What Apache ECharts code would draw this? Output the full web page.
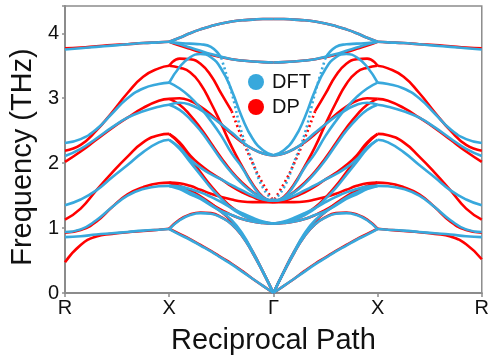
<!DOCTYPE html>
<html><head><meta charset="utf-8">
<script src="https://cdn.jsdelivr.net/npm/echarts@6/dist/echarts.min.js"></script>
<style>html,body{margin:0;padding:0;background:#fff}#c{width:492px;height:360px}</style>
</head><body><div id="c"></div>
<script>
// ---- path / axis ----
const tickLabels = ['R', 'X', 'Γ', 'X', 'R'];
const posRX = [0, 0.15, 0.3, 0.45, 0.6, 0.75, 0.9, 1];
const posXG = [1, 1.1, 1.2, 1.3, 1.4, 1.5, 1.6, 1.7, 1.8, 1.9, 2];
const posGX = [3, 2.9, 2.8, 2.7, 2.6, 2.5, 2.4, 2.3, 2.2, 2.1, 2];
const posXR = [4, 3.85, 3.7, 3.55, 3.4, 3.25, 3.1, 3];

// ---- DFT (THz) ----
const dftLeftRX = [
  [0.86, 0.875, 0.9, 0.92, 0.94, 0.96, 0.975, 0.985],
  [0.94, 0.98, 1.12, 1.32, 1.5, 1.6, 1.645, 1.65],
  [1.35, 1.44, 1.58, 1.78, 1.97, 2.17, 2.32, 2.36],
  [2.11, 2.22, 2.38, 2.55, 2.7, 2.8, 2.87, 2.9],
  [2.31, 2.37, 2.52, 2.76, 3.0, 3.15, 3.22, 3.24],
  [3.75, 3.77, 3.79, 3.81, 3.83, 3.85, 3.86, 3.87]
];
const dftLeftXG = [
  [3.87, 3.93, 4.0, 4.06, 4.11, 4.15, 4.18, 4.2, 4.21, 4.22, 4.22],
  [3.87, 3.83, 3.78, 3.73, 3.68, 3.64, 3.6, 3.58, 3.565, 3.555, 3.55],
  [3.87, 3.85, 3.84, 3.83, 3.79, 3.62, 3.08, 2.45, 2.02, 1.62, 1.42],
  [3.24, 3.48, 3.63, 3.68, 3.63, 3.45, 3.12, 2.7, 2.38, 2.2, 2.12],
  [3.24, 3.15, 3.02, 2.85, 2.65, 2.42, 2.15, 1.93, 1.66, 1.47, 1.42],
  [2.9, 2.93, 2.9, 2.82, 2.72, 2.6, 2.47, 2.33, 2.22, 2.15, 2.12],
  [2.9, 2.82, 2.68, 2.5, 2.28, 2.05, 1.85, 1.68, 1.55, 1.46, 1.42],
  [2.36, 2.24, 2.06, 1.93, 1.83, 1.75, 1.66, 1.58, 1.5, 1.44, 1.42],
  [2.36, 2.22, 2.02, 1.82, 1.62, 1.45, 1.3, 1.2, 1.13, 1.09, 1.07],
  [1.65, 1.64, 1.6, 1.55, 1.48, 1.4, 1.31, 1.23, 1.16, 1.1, 1.07],
  [1.65, 1.6, 1.52, 1.45, 1.35, 1.26, 1.2, 1.14, 1.1, 1.08, 1.07],
  [1.65, 1.62, 1.55, 1.47, 1.36, 1.25, 1.12, 0.92, 0.64, 0.33, 0],
  [0.985, 1.12, 1.2, 1.23, 1.22, 1.16, 1.06, 0.88, 0.62, 0.32, 0],
  [0.985, 0.9, 0.82, 0.73, 0.64, 0.54, 0.44, 0.33, 0.22, 0.11, 0]
];
const dftRightGX = [
  [3.87, 3.93, 4.0, 4.06, 4.11, 4.15, 4.18, 4.2, 4.21, 4.22, 4.22],
  [3.87, 3.83, 3.78, 3.73, 3.68, 3.64, 3.6, 3.58, 3.565, 3.555, 3.55],
  [3.87, 3.85, 3.84, 3.83, 3.79, 3.62, 3.08, 2.45, 2.02, 1.62, 1.42],
  [3.24, 3.48, 3.63, 3.68, 3.63, 3.45, 3.12, 2.7, 2.38, 2.2, 2.12],
  [3.24, 3.15, 3.02, 2.85, 2.65, 2.42, 2.15, 1.93, 1.66, 1.47, 1.42],
  [2.9, 2.93, 2.9, 2.82, 2.72, 2.6, 2.47, 2.33, 2.22, 2.15, 2.12],
  [2.9, 2.82, 2.68, 2.5, 2.28, 2.05, 1.85, 1.68, 1.55, 1.46, 1.42],
  [2.36, 2.24, 2.06, 1.93, 1.83, 1.75, 1.66, 1.58, 1.5, 1.44, 1.42],
  [2.36, 2.22, 2.02, 1.82, 1.62, 1.45, 1.3, 1.2, 1.13, 1.09, 1.07],
  [1.65, 1.64, 1.6, 1.55, 1.48, 1.4, 1.31, 1.23, 1.16, 1.1, 1.07],
  [1.65, 1.6, 1.52, 1.45, 1.35, 1.26, 1.2, 1.14, 1.1, 1.08, 1.07],
  [1.65, 1.62, 1.55, 1.47, 1.36, 1.25, 1.12, 0.92, 0.64, 0.33, 0],
  [0.985, 1.12, 1.2, 1.23, 1.22, 1.16, 1.06, 0.88, 0.62, 0.32, 0],
  [0.985, 0.9, 0.82, 0.73, 0.64, 0.54, 0.44, 0.33, 0.22, 0.11, 0]
];
const dftRightXR = [
  [0.86, 0.875, 0.9, 0.92, 0.94, 0.96, 0.975, 0.985],
  [0.94, 0.98, 1.12, 1.32, 1.5, 1.6, 1.645, 1.65],
  [1.35, 1.44, 1.58, 1.78, 1.97, 2.17, 2.32, 2.36],
  [2.11, 2.22, 2.38, 2.55, 2.7, 2.8, 2.87, 2.9],
  [2.31, 2.37, 2.52, 2.76, 3.0, 3.15, 3.22, 3.24],
  [3.75, 3.77, 3.79, 3.81, 3.83, 3.85, 3.86, 3.87]
];

// ---- DP (THz) ----
const dpLeftRX = [
  [0.475, 0.74, 0.87, 0.91, 0.935, 0.955, 0.975, 0.99],
  [0.93, 0.97, 1.1, 1.32, 1.52, 1.63, 1.69, 1.7],
  [1.13, 1.3, 1.58, 1.85, 2.1, 2.32, 2.43, 2.45],
  [2.02, 2.18, 2.36, 2.54, 2.7, 2.85, 2.96, 2.99],
  [2.19, 2.28, 2.5, 2.78, 3.08, 3.33, 3.46, 3.5],
  [3.77, 3.78, 3.8, 3.82, 3.83, 3.85, 3.86, 3.87]
];
const dpLeftXG = [
  [3.87, 3.93, 4.0, 4.06, 4.11, 4.15, 4.18, 4.2, 4.21, 4.22, 4.22],
  [3.87, 3.81, 3.76, 3.71, 3.67, 3.63, 3.6, 3.58, 3.565, 3.555, 3.55],
  [3.5, 3.61, 3.6, 3.53, 3.35, 3.07, 2.8, 2.38, 2.0, 1.68, 1.42],
  [3.5, 3.47, 3.4, 3.22, 2.93, 2.6, 2.25, 1.95, 1.68, 1.48, 1.4],
  [2.99, 3.0, 2.96, 2.87, 2.75, 2.6, 2.45, 2.32, 2.22, 2.15, 2.12],
  [2.99, 2.9, 2.74, 2.54, 2.31, 2.08, 1.87, 1.7, 1.56, 1.46, 1.42],
  [2.45, 2.32, 2.12, 1.97, 1.85, 1.75, 1.64, 1.55, 1.48, 1.42, 1.4],
  [2.45, 2.3, 2.08, 1.86, 1.65, 1.47, 1.32, 1.21, 1.13, 1.09, 1.07],
  [1.7, 1.69, 1.65, 1.59, 1.53, 1.48, 1.44, 1.41, 1.4, 1.4, 1.4],
  [1.7, 1.63, 1.55, 1.47, 1.37, 1.28, 1.2, 1.14, 1.1, 1.08, 1.07],
  [1.7, 1.65, 1.58, 1.49, 1.38, 1.25, 1.1, 0.9, 0.64, 0.33, 0],
  [0.99, 1.13, 1.21, 1.24, 1.23, 1.17, 1.06, 0.88, 0.62, 0.32, 0],
  [0.99, 0.91, 0.83, 0.74, 0.65, 0.55, 0.45, 0.34, 0.22, 0.11, 0]
];
const dpRightGX = [
  [3.87, 3.93, 4.0, 4.06, 4.11, 4.15, 4.18, 4.2, 4.21, 4.22, 4.22],
  [3.87, 3.81, 3.76, 3.71, 3.67, 3.63, 3.6, 3.58, 3.565, 3.555, 3.55],
  [3.5, 3.61, 3.6, 3.53, 3.35, 3.07, 2.8, 2.38, 2.0, 1.68, 1.42],
  [3.5, 3.47, 3.4, 3.22, 2.93, 2.6, 2.25, 1.95, 1.68, 1.48, 1.4],
  [2.99, 3.0, 2.96, 2.87, 2.75, 2.6, 2.45, 2.32, 2.22, 2.15, 2.12],
  [2.99, 2.9, 2.74, 2.54, 2.31, 2.08, 1.87, 1.7, 1.56, 1.46, 1.42],
  [2.45, 2.32, 2.12, 1.97, 1.85, 1.75, 1.64, 1.55, 1.48, 1.42, 1.4],
  [2.45, 2.3, 2.08, 1.86, 1.65, 1.47, 1.32, 1.21, 1.13, 1.09, 1.07],
  [1.7, 1.69, 1.65, 1.59, 1.53, 1.48, 1.44, 1.41, 1.4, 1.4, 1.4],
  [1.7, 1.63, 1.55, 1.47, 1.37, 1.28, 1.2, 1.14, 1.1, 1.08, 1.07],
  [1.7, 1.65, 1.58, 1.49, 1.38, 1.25, 1.1, 0.9, 0.64, 0.33, 0],
  [0.99, 1.13, 1.21, 1.24, 1.23, 1.17, 1.06, 0.88, 0.62, 0.32, 0],
  [0.99, 0.91, 0.83, 0.74, 0.65, 0.55, 0.45, 0.34, 0.22, 0.11, 0]
];
const dpRightXR = [
  [0.52, 0.75, 0.87, 0.91, 0.935, 0.955, 0.975, 0.99],
  [0.93, 0.97, 1.1, 1.32, 1.52, 1.63, 1.69, 1.7],
  [1.13, 1.3, 1.58, 1.85, 2.1, 2.32, 2.43, 2.45],
  [2.02, 2.18, 2.36, 2.54, 2.7, 2.85, 2.96, 2.99],
  [2.19, 2.28, 2.5, 2.78, 3.08, 3.33, 3.46, 3.5],
  [3.77, 3.78, 3.8, 3.82, 3.83, 3.85, 3.86, 3.87]
];

// ---- styling ----
const BLUE = '#38a8dc', RED = '#ff0000';
const dftDotted = { band: 2, from: 5 };
const dpDotted = { band: 2, from: 6 };

const series = [];
function mkLine(name, color, pts, type) {
  return {
    name, type: 'line', data: pts, showSymbol: false, symbol: 'none',
    smooth: 0.5, silent: true,
    lineStyle: { color, width: 2.6, type: type },
    itemStyle: { color },
    emphasis: { disabled: true }
  };
}
function addBands(bands, pos, name, color, dotted) {
  bands.forEach((vals, i) => {
    const pts = vals.map((v, k) => [pos[k], v]);
    if (dotted && dotted.band === i) {
      series.push(mkLine(name, color, pts.slice(0, dotted.from + 1), 'solid'));
      series.push(mkLine(name, color, pts.slice(dotted.from), [2, 3]));
    } else {
      series.push(mkLine(name, color, pts, 'solid'));
    }
  });
}
// DP first (drawn beneath), DFT on top
addBands(dpLeftRX, posRX, 'DP', RED);
addBands(dpLeftXG, posXG, 'DP', RED, dpDotted);
addBands(dpRightGX, posGX, 'DP', RED, dpDotted);
addBands(dpRightXR, posXR, 'DP', RED);
addBands(dftLeftRX, posRX, 'DFT', BLUE);
addBands(dftLeftXG, posXG, 'DFT', BLUE, dftDotted);
addBands(dftRightGX, posGX, 'DFT', BLUE, dftDotted);
addBands(dftRightXR, posXR, 'DFT', BLUE);

const FONT = 'Liberation Sans, Arial, sans-serif';
const chart = echarts.init(document.getElementById('c'), null, { renderer: 'canvas' });
chart.setOption({
  animation: false,
  backgroundColor: '#fff',
  textStyle: { fontFamily: FONT },
  grid: { left: 64, right: 5, top: 6, bottom: 66, show: true, borderColor: '#8c8c8c', borderWidth: 1.5 },
  legend: {
    data: ['DFT', 'DP'], orient: 'vertical', left: 248, top: 72, padding: 0,
    icon: 'circle', itemWidth: 22, itemHeight: 16, itemGap: 5,
    textStyle: { fontSize: 20, color: '#111', fontFamily: FONT },
    selectedMode: false
  },
  xAxis: {
    type: 'value', min: 0, max: 4, interval: 1,
    name: 'Reciprocal Path', nameLocation: 'middle', nameGap: 33,
    nameTextStyle: { fontSize: 29, color: '#111', fontFamily: FONT },
    axisLine: { show: true, lineStyle: { color: '#8c8c8c', width: 2 } },
    axisTick: { show: true, length: 4, lineStyle: { color: '#8c8c8c', width: 1.5 } },
    axisLabel: { fontSize: 20, color: '#111', margin: 5, formatter: v => tickLabels[Math.round(v)] ?? '' },
    splitLine: { show: false }
  },
  yAxis: {
    type: 'value', min: 0, max: 4.42, interval: 1,
    name: 'Frequency (THz)', nameLocation: 'middle', nameGap: 26,
    nameTextStyle: { fontSize: 29, color: '#111', fontFamily: FONT, padding: [0, 15, 0, 0] },
    axisLine: { show: true, lineStyle: { color: '#8c8c8c', width: 2 } },
    axisTick: { show: true, length: 3, lineStyle: { color: '#8c8c8c', width: 1.5 } },
    axisLabel: { fontSize: 20, color: '#111', margin: 6, formatter: v => (Math.abs(v - Math.round(v)) < 1e-6 ? String(Math.round(v)) : '') },
    splitLine: { show: false }
  },
  series
});
</script></body></html>
